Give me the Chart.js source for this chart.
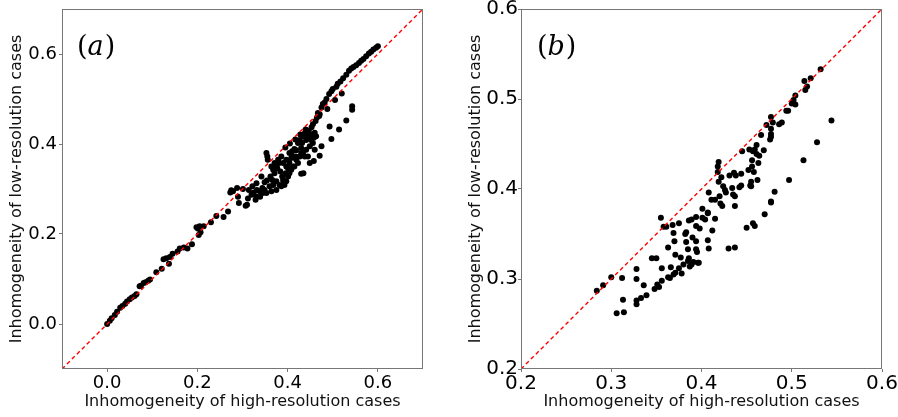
<!DOCTYPE html>
<html>
<head>
<meta charset="utf-8">
<script src="https://cdn.jsdelivr.net/npm/chart.js@4.4.1/dist/chart.umd.min.js"></script>
<style>
  html, body { margin: 0; padding: 0; background: #fff; overflow: hidden; }
  #wrap { position: relative; width: 898px; height: 417px; overflow: hidden; }
  canvas { position: absolute; top: -20px; }
  #chartA { left: 0; }
  #chartB { left: 449px; }
</style>
</head>
<body>
<div id="wrap">
  <canvas id="chartA" width="449" height="437"></canvas>
  <canvas id="chartB" width="469" height="437"></canvas>
</div>
<script>
// panel (a): high-res vs low-res inhomogeneity
const hiResA = [
  0, 0.006, 0.010, 0.017, 0.022, 0.029, 0.034, 0.040, 0.044, 0.050, 0.055, 0.061, 0.065,
  0.072, 0.075, 0.081, 0.085, 0.091, 0.095, 0.109, 0.121, 0.125, 0.131, 0.139, 0.137,
  0.145, 0.156, 0.161, 0.170, 0.178, 0.188, 0.198, 0.201, 0.205, 0.203, 0.207, 0.214,
  0.230, 0.242, 0.258, 0.268,
  0.273, 0.275, 0.279, 0.288, 0.290, 0.292, 0.307, 0.310, 0.312, 0.320, 0.325, 0.332,
  0.329, 0.339, 0.345, 0.344, 0.349, 0.354, 0.353, 0.355, 0.356, 0.362, 0.366, 0.371,
  0.375, 0.377, 0.381, 0.384, 0.388, 0.391, 0.396, 0.397, 0.401, 0.404, 0.408, 0.410,
  0.415, 0.418, 0.419, 0.423, 0.427, 0.430, 0.432, 0.435, 0.438, 0.440, 0.441, 0.445,
  0.447, 0.450, 0.453, 0.456, 0.458, 0.460, 0.462, 0.465, 0.467, 0.471, 0.475, 0.478,
  0.482, 0.486, 0.492, 0.497, 0.500, 0.508, 0.511, 0.517, 0.523, 0.530, 0.536, 0.541,
  0.546, 0.552, 0.558, 0.563, 0.568, 0.574, 0.580, 0.585, 0.590, 0.596, 0.600,
  0.543, 0.543, 0.530, 0.514, 0.497, 0.493, 0.475, 0.471, 0.458, 0.449, 0.435, 0.430,
  0.368, 0.375, 0.382, 0.390, 0.397, 0.404, 0.412, 0.419, 0.427, 0.412, 0.404, 0.397,
  0.390, 0.386, 0.379, 0.371, 0.364, 0.368, 0.434, 0.441, 0.449, 0.452, 0.456, 0.463,
  0.460, 0.445, 0.438, 0.430, 0.423, 0.415, 0.408, 0.401, 0.393, 0.386, 0.375, 0.364,
  0.353, 0.360, 0.349, 0.338, 0.331, 0.342, 0.331, 0.322, 0.314, 0.301,
  0.395, 0.405, 0.417, 0.428, 0.470, 0.488, 0.505, 0.520
];
const lowResA = [
  0, 0.007, 0.013, 0.020, 0.027, 0.036, 0.040, 0.045, 0.050, 0.055, 0.059, 0.062, 0.066,
  0.084, 0.085, 0.091, 0.093, 0.096, 0.099, 0.115, 0.123, 0.144, 0.146, 0.149, 0.134,
  0.156, 0.161, 0.168, 0.170, 0.168, 0.177, 0.215, 0.212, 0.217, 0.198, 0.204, 0.217,
  0.226, 0.240, 0.238, 0.250,
  0.292, 0.297, 0.295, 0.302, 0.283, 0.269, 0.263, 0.265, 0.279, 0.287, 0.292, 0.298,
  0.276, 0.283, 0.291, 0.302, 0.315, 0.319, 0.380, 0.372, 0.365, 0.328, 0.320, 0.335,
  0.350, 0.346, 0.358, 0.339, 0.328, 0.317, 0.335, 0.350, 0.346, 0.358, 0.369, 0.384,
  0.389, 0.372, 0.386, 0.402, 0.409, 0.391, 0.402, 0.417, 0.424, 0.432, 0.409, 0.417,
  0.429, 0.421, 0.437, 0.444, 0.414, 0.425, 0.451, 0.459, 0.469, 0.466, 0.481, 0.489,
  0.492, 0.500, 0.511, 0.517, 0.522, 0.527, 0.534, 0.539, 0.546, 0.554, 0.563, 0.568,
  0.571, 0.575, 0.580, 0.585, 0.589, 0.595, 0.601, 0.605, 0.610, 0.614, 0.617,
  0.484, 0.476, 0.452, 0.432, 0.411, 0.439, 0.395, 0.374, 0.362, 0.358, 0.335, 0.334,
  0.309, 0.317, 0.309, 0.320, 0.317, 0.335, 0.350, 0.365, 0.372, 0.372, 0.380, 0.365,
  0.358, 0.372, 0.365, 0.358, 0.350, 0.343, 0.380, 0.387, 0.395, 0.409, 0.402, 0.417,
  0.387, 0.372, 0.372, 0.380, 0.358, 0.350, 0.343, 0.328, 0.309, 0.306, 0.298, 0.295,
  0.291, 0.306, 0.298, 0.295, 0.283, 0.328, 0.313, 0.306, 0.298, 0.300,
  0.392, 0.401, 0.410, 0.421, 0.462, 0.478, 0.498, 0.512
];

// panel (b)
const hiResB = [
  0.284, 0.291, 0.300, 0.306, 0.312, 0.313, 0.314, 0.328, 0.328, 0.328, 0.328, 0.333,
  0.336, 0.339, 0.345, 0.350, 0.348, 0.351, 0.353, 0.355, 0.356, 0.356, 0.358, 0.361,
  0.363, 0.365, 0.363, 0.366, 0.368, 0.369, 0.370, 0.371, 0.369, 0.371, 0.375, 0.377,
  0.375, 0.378, 0.380, 0.382, 0.383, 0.383, 0.385, 0.385, 0.386, 0.386, 0.389, 0.390,
  0.387, 0.389, 0.391, 0.394, 0.394, 0.394, 0.394, 0.395, 0.396, 0.397, 0.398, 0.401,
  0.401, 0.404, 0.407, 0.407, 0.407, 0.408, 0.408, 0.411, 0.412, 0.415, 0.415, 0.418,
  0.419, 0.418, 0.419, 0.420, 0.421, 0.422, 0.423, 0.424, 0.426, 0.427, 0.430, 0.431,
  0.434, 0.435, 0.436, 0.438, 0.437, 0.437, 0.437, 0.442, 0.444, 0.445, 0.444, 0.450,
  0.452, 0.453, 0.454, 0.455, 0.455, 0.456, 0.456, 0.457, 0.457, 0.458, 0.459, 0.459,
  0.461, 0.461, 0.462, 0.463, 0.464, 0.466, 0.469, 0.470, 0.472, 0.477, 0.476, 0.477,
  0.477, 0.477, 0.477, 0.477, 0.479, 0.481, 0.486, 0.489, 0.494, 0.496, 0.497, 0.500,
  0.502, 0.504, 0.504, 0.513, 0.514, 0.515, 0.517, 0.521, 0.528, 0.532, 0.544
];
const lowResB = [
  0.287, 0.293, 0.302, 0.262, 0.301, 0.277, 0.263, 0.311, 0.300, 0.276, 0.272, 0.279,
  0.293, 0.282, 0.323, 0.323, 0.289, 0.294, 0.291, 0.368, 0.312, 0.298, 0.358, 0.358,
  0.335, 0.301, 0.302, 0.313, 0.360, 0.351, 0.342, 0.327, 0.305, 0.307, 0.362, 0.324,
  0.312, 0.306, 0.316, 0.350, 0.341, 0.352, 0.333, 0.320, 0.323, 0.365, 0.366, 0.346,
  0.314, 0.316, 0.319, 0.359, 0.369, 0.342, 0.333, 0.330, 0.318, 0.318, 0.356, 0.378,
  0.368, 0.366, 0.374, 0.373, 0.343, 0.334, 0.396, 0.388, 0.354, 0.367, 0.388, 0.425,
  0.430, 0.419, 0.408, 0.392, 0.384, 0.413, 0.381, 0.403, 0.399, 0.396, 0.334, 0.415,
  0.401, 0.394, 0.418, 0.415, 0.381, 0.335, 0.392, 0.402, 0.404, 0.442, 0.417, 0.357,
  0.421, 0.444, 0.404, 0.403, 0.408, 0.425, 0.432, 0.442, 0.362, 0.419, 0.444, 0.359,
  0.439, 0.449, 0.410, 0.429, 0.437, 0.460, 0.443, 0.372, 0.471, 0.480, 0.455, 0.458,
  0.461, 0.467, 0.386, 0.385, 0.474, 0.397, 0.472, 0.474, 0.487, 0.487, 0.410, 0.495,
  0.499, 0.494, 0.504, 0.432, 0.520, 0.510, 0.514, 0.523, 0.452, 0.533, 0.476
];

const diagA = [-0.1, 0.7];
const diagB = [0.2, 0.6];
const ticksA = [0.0, 0.2, 0.4, 0.6];
const ticksB = [0.2, 0.3, 0.4, 0.5, 0.6];

const xTitle = 'Inhomogeneity of high-resolution cases';
const yTitle = 'Inhomogeneity of low-resolution cases';

const axisColor = '#777';

// frame around plot area plus the (a)/(b) label
const framePlugin = {
  id: 'frame',
  afterDraw(chart, args, opts) {
    const { ctx, chartArea: a } = chart;
    ctx.save();
    ctx.strokeStyle = axisColor;
    ctx.lineWidth = 1;
    ctx.strokeRect(a.left + 0.5, a.top + 0.5, a.right - a.left - 1, a.bottom - a.top - 1);
    // panel letter
    ctx.fillStyle = '#000';
    ctx.textBaseline = 'alphabetic';
    let x = a.left + opts.dx;
    const y = a.top + opts.dy;
    ctx.font = '27px "DejaVu Serif"';
    ctx.fillText('(', x, y);
    x += ctx.measureText('(').width;
    ctx.font = 'italic 27px "DejaVu Serif"';
    ctx.fillText(opts.letter, x, y);
    x += ctx.measureText(opts.letter).width + 1;
    ctx.font = '27px "DejaVu Serif"';
    ctx.fillText(')', x, y);
    ctx.restore();
  }
};

function makeChart(id, xs, ys, diag, tickVals, opt) {
  const pts = xs.map((x, i) => ({ x: x, y: ys[i] }));
  const line = diag.map(v => ({ x: v, y: v }));
  const tickFont = { family: 'DejaVu Sans', size: opt.tickSize };
  const titleFont = { family: 'DejaVu Sans', size: 16 };

  return new Chart(document.getElementById(id), {
    type: 'scatter',
    data: {
      datasets: [
        {
          type: 'line',
          data: line,
          borderColor: '#ff0000',
          borderWidth: 1.4,
          borderDash: [4, 3],
          pointRadius: 0,
          fill: false
        },
        {
          data: pts,
          backgroundColor: '#000',
          borderWidth: 0,
          pointRadius: 3
        }
      ]
    },
    options: {
      responsive: false,
      animation: false,
      layout: { padding: { top: 29, right: opt.padRight, left: 0, bottom: 0 } },
      plugins: {
        legend: { display: false },
        tooltip: { enabled: false },
        frame: { letter: opt.letter, dx: opt.letterX, dy: opt.letterY }
      },
      scales: {
        x: {
          type: 'linear',
          min: diag[0],
          max: diag[1],
          afterBuildTicks: s => { s.ticks = tickVals.map(v => ({ value: v })); },
          afterFit: s => { s.height = 48; },
          grid: { drawOnChartArea: false, drawTicks: true, tickLength: 3, color: axisColor },
          border: { display: false },
          ticks: {
            autoSkip: false, maxRotation: 0, padding: opt.xPad,
            color: '#000', font: tickFont,
            callback: v => v.toFixed(1)
          },
          title: { display: true, text: xTitle, color: '#111', font: titleFont, padding: { top: 0, bottom: 6 } }
        },
        y: {
          type: 'linear',
          min: diag[0],
          max: diag[1],
          afterBuildTicks: s => { s.ticks = tickVals.map(v => ({ value: v })); },
          afterFit: s => { s.width = opt.yWidth; },
          grid: { drawOnChartArea: false, drawTicks: true, tickLength: 3, color: axisColor },
          border: { display: false },
          ticks: {
            autoSkip: false, padding: opt.yPad,
            color: '#000', font: tickFont,
            callback: v => v.toFixed(1)
          },
          title: { display: true, text: yTitle, color: '#111', font: titleFont, padding: { top: opt.yTitlePad, bottom: 0 } }
        }
      }
    },
    plugins: [framePlugin]
  });
}

makeChart('chartA', hiResA, lowResA, diagA, ticksA, {
  tickSize: 18, padRight: 26, yWidth: 62, yTitlePad: 7, xPad: 1, yPad: 2,
  letter: 'a', letterX: 15, letterY: 46
});
makeChart('chartB', hiResB, lowResB, diagB, ticksB, {
  tickSize: 20, padRight: 36, yWidth: 72, yTitlePad: 17, xPad: 0, yPad: 0,
  letter: 'b', letterX: 16, letterY: 46
});
</script>
</body>
</html>
